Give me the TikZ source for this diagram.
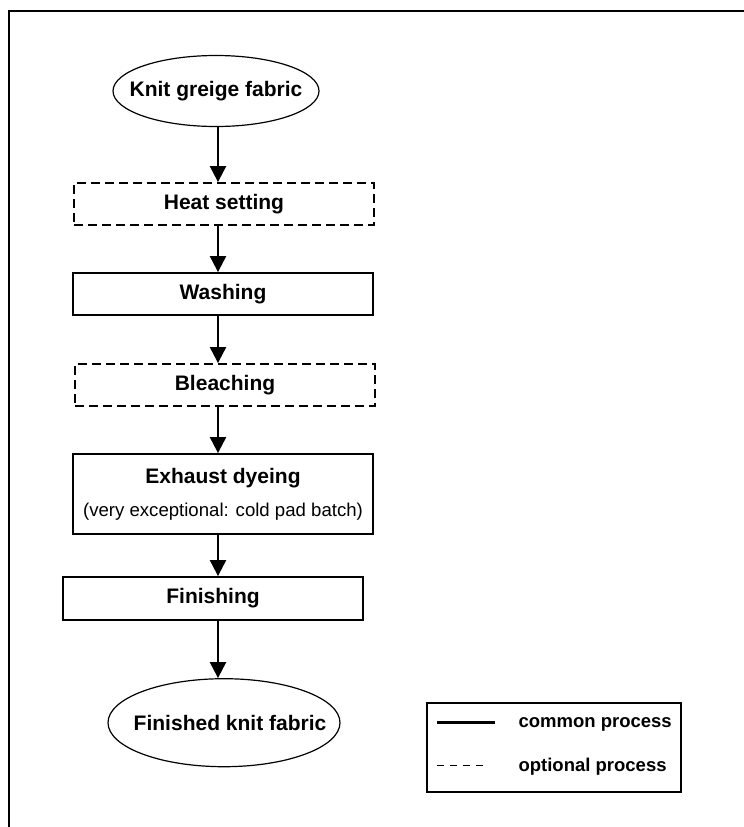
\documentclass[tikz,border=0pt]{standalone}
\usepackage{fontspec}
\setmainfont{Liberation Sans}
\usetikzlibrary{arrows.meta,positioning,shapes.geometric}
\tikzset{
  process step/.style={
    rectangle, draw=black, line width=2pt, align=center,
    minimum width=300pt, minimum height=42pt,
    inner sep=4pt, font=\fontsize{21}{25}\selectfont\bfseries
  },
  optional step/.style={process step, dash pattern=on 9pt off 5pt},
  fabric state/.style={
    ellipse, draw=black, line width=1.2pt, inner sep=0pt,
    font=\fontsize{21}{25}\selectfont\bfseries
  },
  flow arrow/.style={-{Triangle[length=16pt,width=16pt]}, line width=2pt},
  legend box/.style={
    rectangle, draw=black, line width=1.3pt,
    minimum width=254pt, minimum height=89pt
  },
  legend text/.style={anchor=west, inner sep=0pt, font=\fontsize{18.5}{22}\selectfont\bfseries}
}

\begin{document}
\begin{tikzpicture}[x=1pt, y=1pt]
    \useasboundingbox (0,0) rectangle (744,-827);
    \draw[line width=2pt] (9,-827) -- (9,-11) -- (744,-11);
    \coordinate (spine) at (218,0);
    \node[fabric state, minimum width=206pt, minimum height=71pt] (greige) at (216,-91) {\makebox[0pt]{Knit greige fabric}};
    \node[optional step, below=55pt of greige, xshift=8pt] (heatset) {Heat setting};
    \node[process step, below=46pt of heatset, xshift=-1pt] (washing) {Washing};
    \node[optional step, below=47pt of washing, xshift=2pt] (bleaching) {Bleaching};
    \node[process step, below=46pt of bleaching, xshift=-2pt, minimum height=80pt] (dyeing) {Exhaust dyeing\\[8pt]
      {\fontsize{18.6}{22}\selectfont\mdseries (very exceptional: cold pad batch)}};
    \node[process step, below=41pt of dyeing, xshift=-10pt, minimum height=43pt] (finishing) {Finishing};
    \node[fabric state, below=57pt of finishing, xshift=11pt, minimum width=232pt, minimum height=88pt] (finished) {\makebox[0pt]{\hspace*{12pt}Finished knit fabric}};
    \draw[flow arrow] (greige.south -| spine) -- (heatset.north -| spine);
    \draw[flow arrow] (heatset.south -| spine) -- (washing.north -| spine);
    \draw[flow arrow] (washing.south -| spine) -- (bleaching.north -| spine);
    \draw[flow arrow] (bleaching.south -| spine) -- (dyeing.north -| spine);
    \draw[flow arrow] (dyeing.south -| spine) -- (finishing.north -| spine);
    \draw[flow arrow] (finishing.south -| spine) -- (finished.north -| spine);
    \node[legend box] (legend) at (554,-747.5) {};
    \draw[line width=2.5pt] ([xshift=11pt, yshift=-20pt]legend.north west) -- ++(58,0);
    \draw[line width=1.3pt, dash pattern=on 7pt off 6pt] ([xshift=11pt, yshift=-63pt]legend.north west) -- ++(52,0);
    \node[legend text] (common) at ([xshift=92pt, yshift=-22pt]legend.north west) {common process};
    \node[legend text] (optional) at ([xshift=92pt, yshift=-64pt]legend.north west) {optional process};
  \end{tikzpicture}
\end{document}
